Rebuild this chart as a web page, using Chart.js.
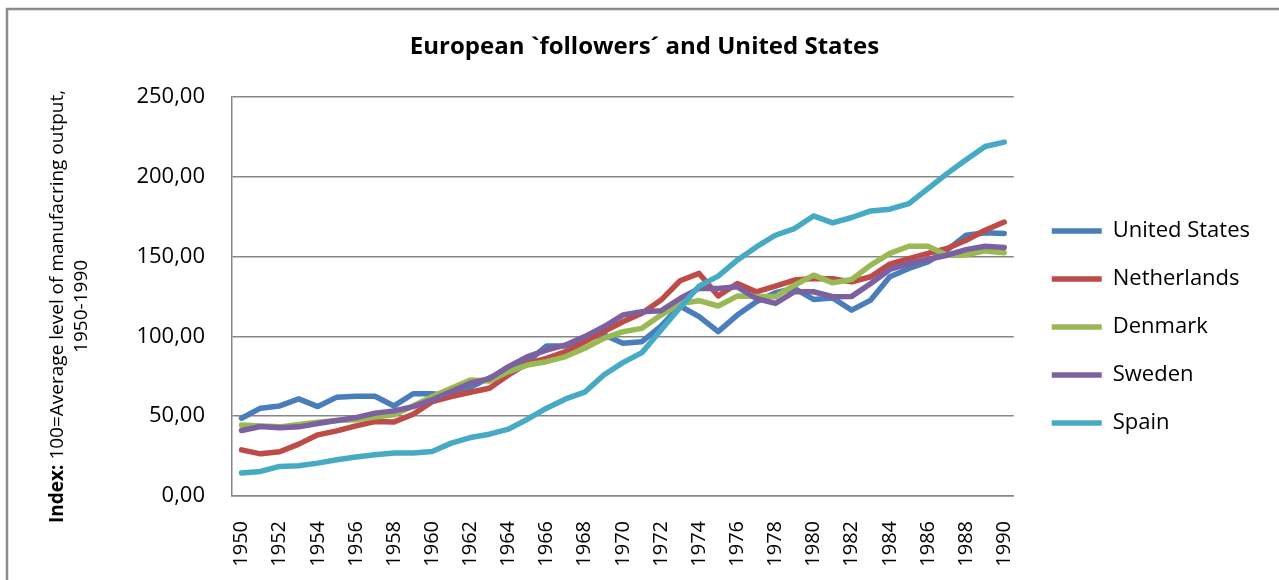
<!DOCTYPE html>
<html>
<head>
<meta charset="utf-8">
<script src="https://cdn.jsdelivr.net/npm/chart.js@4.4.1/dist/chart.umd.min.js"></script>
<style>
  html, body { margin: 0; padding: 0; background: #fff; }
  #wrap { width: 1279px; height: 580px; }
</style>
</head>
<body>
<div id="wrap"><canvas id="chart" width="1279" height="580"></canvas></div>
<script>
(function () {
    "use strict";

    // Data
    var years = ['1950', '1951', '1952', '1953', '1954', '1955', '1956', '1957', '1958', '1959',
        '1960', '1961', '1962', '1963', '1964', '1965', '1966', '1967', '1968', '1969',
        '1970', '1971', '1972', '1973', '1974', '1975', '1976', '1977', '1978', '1979',
        '1980', '1981', '1982', '1983', '1984', '1985', '1986', '1987', '1988', '1989', '1990'];

    var unitedStates = [48.7, 55, 56.4, 60.8, 56, 61.9, 62.5, 62.5, 56.4, 64,
        64, 63, 68, 74, 78, 84, 94, 94, 98.7, 101,
        95.6, 96.6, 106.4, 119, 112.3, 102.9, 113.3, 121.6, 127.3, 130,
        123.1, 124, 116.4, 122.7, 137.3, 142.5, 146.6, 154, 163.3, 164.8, 164.4];

    var netherlands = [28.9, 26.4, 27.7, 32.5, 38.3, 40.8, 43.9, 46.6, 46.4, 51.2,
        59.1, 62.3, 65, 67.5, 75.8, 83.1, 86.2, 90.4, 96.6, 102.9,
        109.1, 114.4, 122.7, 134.8, 139.4, 125.2, 133.1, 127.9, 131.4, 135.2,
        136.2, 136, 134.1, 137.3, 145.2, 148.7, 151.9, 155, 160.2, 166.4, 171.6];

    var denmark = [44.4, 43.9, 43.3, 44.8, 46.2, 47.3, 47.7, 49.4, 50.8, 56.4,
        62.3, 67.5, 72.7, 72, 77.9, 82, 84.1, 87.3, 92.5, 98.7,
        102.9, 105, 113.3, 120.6, 122.3, 119, 125.2, 125, 124.8, 132,
        138.3, 133.5, 135.6, 144.6, 151.9, 156.4, 156.4, 150.8, 151, 153.5, 152.3];

    var sweden = [41, 43.5, 42.7, 43.3, 45.4, 47.3, 49.1, 51.9, 53.3, 56,
        60.2, 65.4, 70.6, 73.5, 81, 87.3, 91.4, 94.6, 99.8, 106,
        113.3, 115.4, 116, 123.7, 130, 130, 131, 123.7, 120.6, 127.9,
        127.9, 124.8, 125, 133.1, 141.9, 145.6, 148.1, 150.8, 154.3, 156.4, 155.6];

    var spain = [14.4, 15.4, 18.5, 18.9, 20.6, 22.7, 24.4, 25.8, 26.9, 26.9,
        27.9, 33.1, 36.6, 38.7, 41.9, 48.1, 55, 60.8, 65, 75.8,
        83.5, 89.8, 104, 118, 131.4, 137.7, 147.7, 156, 163.3, 167.5,
        175.4, 171, 174.4, 178.5, 179.6, 183.1, 192.5, 201.9, 210.6, 218.9, 221.6];

    var seriesNames = ['United States', 'Netherlands', 'Denmark', 'Sweden', 'Spain'];
    var seriesValues = [unitedStates, netherlands, denmark, sweden, spain];
    var seriesColors = ['#4A7EBB', '#BE4B48', '#98B954', '#7D60A0', '#46AAC5'];

    var yTitleBold = 'Index:';
    var yTitleRest = ' 100=Average level of manufacring output,';
    var yTitleLine2 = '1950-1990';

    var FONT = '"Open Sans", "Noto Sans", sans-serif';
    var GRID = '#868686';


    // Outer frame of the chart
    var frame = {
        id: 'frame',
        beforeDraw: function (chart) {
            var ctx = chart.ctx;
            ctx.save();
            ctx.strokeStyle = '#8a8a8a';
            ctx.lineWidth = 2.5;
            ctx.beginPath();
            ctx.moveTo(7, chart.height);
            ctx.lineTo(7, 9);
            ctx.lineTo(chart.width, 9);
            ctx.stroke();
            ctx.restore();
        }
    };

    // Y axis title with bold "Index:"
    var yTitle = {
        id: 'yTitle',
        afterDraw: function (chart) {
            var ctx = chart.ctx;
            var a = chart.chartArea;
            var cy = (a.top + a.bottom) / 2 + 10;
            ctx.save();
            ctx.fillStyle = '#000';
            ctx.textBaseline = 'middle';
            ctx.translate(58, cy);
            ctx.rotate(-Math.PI / 2);
            ctx.font = 'bold 19px ' + FONT;
            var wb = ctx.measureText(yTitleBold).width;
            ctx.font = '19px ' + FONT;
            var wr = ctx.measureText(yTitleRest).width;
            var x0 = -(wb + wr) / 2;
            ctx.font = 'bold 19px ' + FONT;
            ctx.fillText(yTitleBold, x0, 0);
            ctx.font = '19px ' + FONT;
            ctx.fillText(yTitleRest, x0 + wb, 0);
            ctx.textAlign = 'center';
            ctx.fillText(yTitleLine2, 0, 24);
            ctx.restore();
        }
    };

    // Move the legend a little right and down, next to the plot
    var legendShift = {
        id: 'legendShift',
        afterLayout: function (chart) {
            var lg = chart.legend;
            lg.left += 12;
            lg.right += 12;
            lg.top += 37;
            lg.bottom += 37;
        }
    };


    var datasets = seriesNames.map(function (name, i) {
        return {
            label: name,
            data: seriesValues[i],
            borderColor: seriesColors[i],
            backgroundColor: seriesColors[i],
            borderWidth: 5.5,
            borderCapStyle: 'round',
            borderJoinStyle: 'round',
            pointRadius: 0,
            tension: 0,
            fill: false,
            order: seriesNames.length - 1 - i
        };
    });

    var ctx = document.getElementById('chart').getContext('2d');
    var myChart = new Chart(ctx, {
        type: 'line',
        data: {
            labels: years,
            datasets: datasets
        },
        options: {
            responsive: false,
            animation: false,
            devicePixelRatio: 1,
            layout: {
                padding: { left: 41, right: 31, top: 0, bottom: 0 }
            },
            plugins: {
                title: {
                    display: true,
                    text: 'European `followers\u00B4 and United States',
                    color: '#000',
                    font: { family: FONT, size: 24, weight: 'bold' },
                    padding: { top: 33, bottom: 35 }
                },
                legend: {
                    position: 'right',
                    labels: {
                        usePointStyle: true,
                        pointStyle: 'line',
                        pointStyleWidth: 50,
                        color: '#000',
                        font: { family: FONT, size: 22 },
                        padding: 26,
                        sort: function (a, b) { return a.datasetIndex - b.datasetIndex; }
                    }
                },
                tooltip: { enabled: false }
            },
            scales: {
                x: {
                    offset: true,
                    grid: { display: false },
                    border: { display: true, color: GRID, width: 1.5 },
                    ticks: {
                        autoSkip: false,
                        minRotation: 90,
                        maxRotation: 90,
                        padding: 17,
                        color: '#000',
                        font: { family: FONT, size: 20 },
                        callback: function (v, i) { return i % 2 === 0 ? years[i] : ''; }
                    },
                    afterFit: function (scale) { scale.height = 84; }
                },
                y: {
                    min: 0,
                    max: 250,
                    ticks: {
                        stepSize: 50,
                        padding: 27,
                        color: '#000',
                        font: { family: FONT, size: 22 },
                        callback: function (v) { return v.toFixed(2).replace('.', ','); }
                    },
                    grid: { color: GRID, lineWidth: 1.5, drawTicks: false },
                    border: { display: true, color: GRID, width: 1.5 },
                    afterFit: function (scale) { scale.width = 191; }
                }
            }
        },
        plugins: [frame, yTitle, legendShift]
    });

})();
</script>
</body>
</html>
